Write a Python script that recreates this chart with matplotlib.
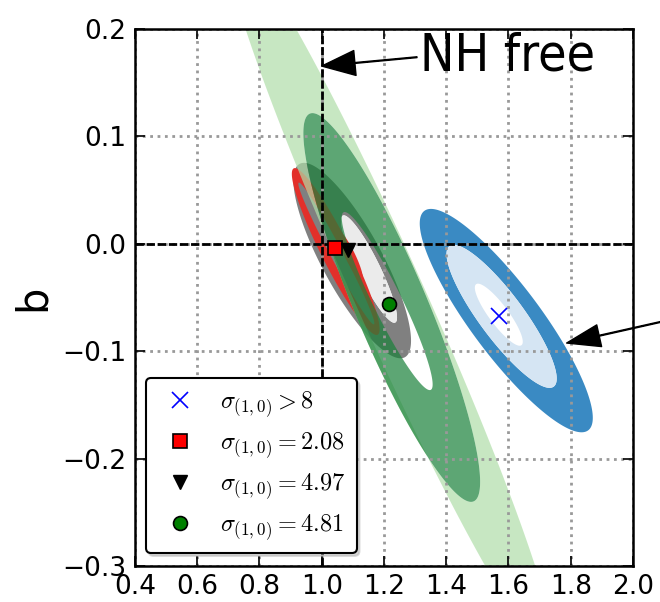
import numpy as np
import matplotlib
matplotlib.use("Agg")
import matplotlib.pyplot as plt
from matplotlib.path import Path
from matplotlib.patches import PathPatch

plt.rcParams["mathtext.fontset"] = "cm"
plt.rcParams["font.family"] = ["DejaVu Sans"]

# confidence regions: (x0, y0, sigma_x, sigma_y, rho)
blue_outer = (1.593, -0.0715, 0.278, 0.104, -0.87)
blue_mid   = (1.578, -0.0675, 0.177, 0.0666, -0.87)
blue_inner = (1.569, -0.066, 0.077, 0.0289, -0.87)

grey_outer = (1.098, -0.0156, 0.189, 0.091, -0.82)
grey_inner = (1.152, -0.0235, 0.09, 0.05, -0.90)

red_outer = (1.045, -0.0072, 0.141, 0.0777, -0.93)
red_mid   = (1.047, -0.009, 0.122, 0.066, -0.983)
red_core  = (1.090, -0.0104, 0.042, 0.0233, -0.90)

green_outer = (1.219, -0.0486, 0.528, 0.334, -0.973)
green_mid   = (1.225, -0.0593, 0.284, 0.181, -0.897)
green_inner = (1.2104, -0.0533, 0.146, 0.0829, -0.936)

# best-fit points
fit_x = [1.569, 1.044, 1.085, 1.215]
fit_y = [-0.067, -0.004, -0.006, -0.056]
sig_labels = [r"$\sigma_{(1,0)}>8$", r"$\sigma_{(1,0)}=2.08$",
              r"$\sigma_{(1,0)}=4.97$", r"$\sigma_{(1,0)}=4.81$"]

nh_free_xy = (1.0, 0.1655)
other_xy = (1.787, -0.0924)


def ellipse_xy(e, n=400):
    x0, y0, sx, sy, rho = e
    t = np.linspace(0, 2 * np.pi, n)
    x = x0 + sx * np.cos(t)
    y = y0 + sy * (rho * np.cos(t) + np.sqrt(1 - rho ** 2) * np.sin(t))
    return np.column_stack([x, y])


def fill_region(ax, outer, inner=None, **kw):
    v = ellipse_xy(outer)
    codes = [Path.MOVETO] + [Path.LINETO] * (len(v) - 2) + [Path.CLOSEPOLY]
    if inner is not None:
        vi = ellipse_xy(inner)[::-1]
        v = np.vstack([v, vi])
        codes = codes + codes
    ax.add_patch(PathPatch(Path(v, codes), lw=0, **kw))


fig = plt.figure(figsize=(6.6, 6.02), dpi=100)
ax = fig.add_axes([0.2045, 0.0598, 0.7545, 0.892])

# blue
fill_region(ax, blue_outer, blue_mid, facecolor="#3a8ac3")
fill_region(ax, blue_mid, blue_inner, facecolor="#d5e5f3")

# grey
fill_region(ax, grey_outer, grey_inner, facecolor="#808080")
fill_region(ax, grey_inner, facecolor="#ebebeb")

# red
fill_region(ax, red_outer, red_mid, facecolor="#e2302a")
fill_region(ax, red_core, facecolor="#e2302a")

# green (translucent)
fill_region(ax, green_outer, green_mid, facecolor="#b0dea9", alpha=0.7)
fill_region(ax, green_mid, green_inner, facecolor="#198139", alpha=0.7)

ax.axvline(1.0, color="black", lw=2, dashes=(3, 1), zorder=3)
ax.axhline(0.0, color="black", lw=2, dashes=(3, 1), zorder=3)

ax.plot(fit_x[0], fit_y[0], "x", color="blue", ms=12, mew=1.2, label=sig_labels[0], zorder=4)
ax.plot(fit_x[1], fit_y[1], "s", mfc="red", mec="black", ms=9.5, mew=1.2, label=sig_labels[1], zorder=4)
ax.plot(fit_x[2], fit_y[2], "v", color="black", ms=10, label=sig_labels[2], zorder=4)
ax.plot(fit_x[3], fit_y[3], "o", mfc="green", mec="black", ms=10, mew=1.2, label=sig_labels[3], zorder=4)

ax.annotate("NH free", xy=nh_free_xy, xytext=(1.315, 0.174),
            fontsize=37, family="DejaVu Sans", fontstretch="condensed",
            ha="left", va="center",
            arrowprops=dict(facecolor="black", edgecolor="black", width=0.6,
                            headwidth=18, headlength=24, shrink=0))
ax.annotate("", xy=other_xy, xytext=(2.3, -0.059), annotation_clip=False,
            arrowprops=dict(facecolor="black", edgecolor="black", width=0.6,
                            headwidth=16, headlength=24, shrink=0))

ax.set_xlim(0.4, 2.0)
ax.set_ylim(-0.3, 0.2)
ax.set_xticks([0.4, 0.6, 0.8, 1.0, 1.2, 1.4, 1.6, 1.8, 2.0])
ax.set_yticks([-0.3, -0.2, -0.1, 0.0, 0.1, 0.2])
ax.grid(True, color="0.6", linestyle=":", lw=2)
ax.tick_params(direction="in", top=True, right=True, length=7, width=1.2,
               labelsize=19, pad=6)
for s in ax.spines.values():
    s.set_linewidth(1.8)
ax.set_ylabel("b", fontsize=30, labelpad=6)

leg = ax.legend(loc="lower left", bbox_to_anchor=(0.022, 0.024), numpoints=1,
                fontsize=17.5, fancybox=True, shadow={"color": "0.7"}, framealpha=1,
                edgecolor="black", borderpad=0.45, labelspacing=0.45,
                handlelength=1.9, handletextpad=0.7, borderaxespad=0)
leg.get_frame().set_linewidth(1.5)

fig.savefig("out.png", dpi=100)
